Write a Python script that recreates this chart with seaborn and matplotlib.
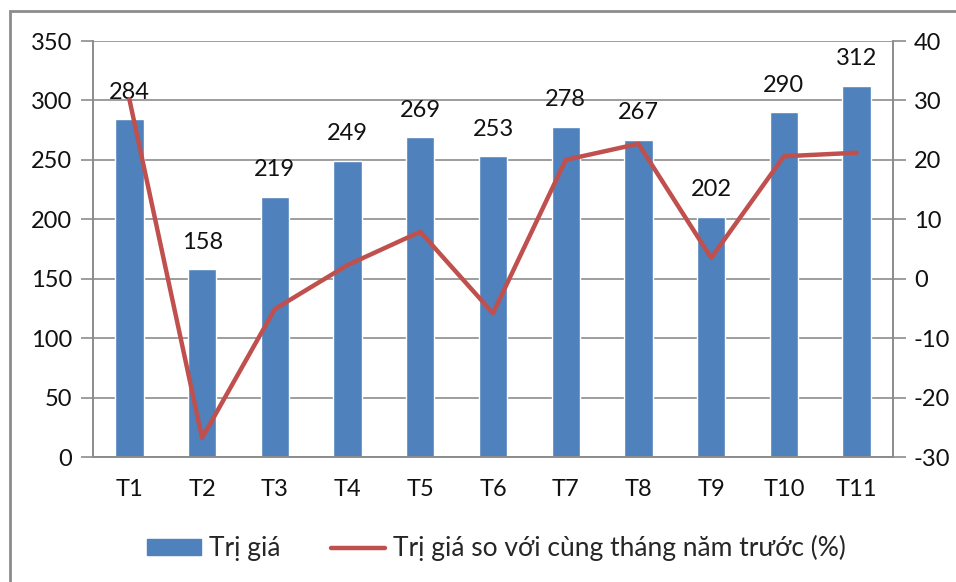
import pandas as pd
import matplotlib.pyplot as plt
import seaborn as sns
from matplotlib.patches import Patch, Rectangle
from matplotlib.lines import Line2D

# Data
months = ["T1", "T2", "T3", "T4", "T5", "T6", "T7", "T8", "T9", "T10", "T11"]
tri_gia = [284, 158, 219, 249, 269, 253, 278, 267, 202, 290, 312]
pct_change = [30.2, -26.8, -5.1, 2.3, 7.9, -5.8, 20.0, 22.7, 3.5, 20.6, 21.2]

df = pd.DataFrame({"Thang": months, "TriGia": tri_gia, "Pct": pct_change})

blue = "#4F81BD"
red = "#C0504D"
grid_col = "#8C8C8C"

sns.set_style("white")
plt.rcParams["font.family"] = ["Lato", "DejaVu Sans"]
plt.rcParams["axes.unicode_minus"] = False

fig = plt.figure(figsize=(9.56, 5.82), dpi=100)
ax = fig.add_axes([93 / 956, 1 - 457 / 582, 800 / 956, 416 / 582])

# Bars
sns.barplot(data=df, x="Thang", y="TriGia", color=blue, width=0.39,
            saturation=1, ax=ax, zorder=2)
ax.set_ylim(0, 350)
ax.set_yticks(range(0, 351, 50))
ax.set_xlim(-0.5, len(months) - 0.5)
ax.yaxis.grid(True, color=grid_col, linewidth=1.2)
ax.set_axisbelow(True)
ax.set_xlabel("")
ax.set_ylabel("")

for i, v in enumerate(tri_gia):
    ax.annotate(str(v), (i, v), xytext=(0, 12), textcoords="offset points",
                ha="center", va="bottom", fontsize=17, color="#111111")

# Line on secondary axis
ax2 = ax.twinx()
sns.lineplot(data=df, x="Thang", y="Pct", color=red, linewidth=3.2,
             sort=False, ax=ax2)
ax2.set_ylim(-30, 40)
ax2.set_yticks(range(-30, 41, 10))
ax2.set_ylabel("")
ax2.set_xlim(-0.5, len(months) - 0.5)

for a in (ax, ax2):
    a.spines["top"].set_visible(False)
    for side in ["left", "right", "bottom"]:
        a.spines[side].set_color(grid_col)
        a.spines[side].set_linewidth(1.2)
    a.tick_params(axis="y", length=9, width=1.2, color=grid_col,
                  labelsize=17, labelcolor="#111111", pad=6)

# category ticks at boundaries
ax.set_xticks([i - 0.5 for i in range(len(months) + 1)], minor=True)
ax.tick_params(axis="x", which="minor", length=9, width=1.2, color=grid_col)
ax.tick_params(axis="x", which="major", length=0, labelsize=17,
               labelcolor="#111111", pad=16)

# Legend
handles = [Patch(facecolor=blue, edgecolor=blue, label="Trị giá"),
           Line2D([0], [0], color=red, linewidth=3.2,
                  label="Trị giá so với cùng tháng năm trước (%)")]
fig.legend(handles=handles, loc="center", bbox_to_anchor=(0.519, 0.058),
           ncol=2, frameon=False, fontsize=19, handlelength=2.05,
           handleheight=0.55, columnspacing=1.9, handletextpad=0.3)

# outer frame
fig.patches.append(Rectangle((10 / 956, -0.05), 1.0, 1 - 11 / 582 + 0.05,
                             transform=fig.transFigure, fill=False,
                             edgecolor="#8C8C8C", linewidth=2))

plt.savefig("out.png", dpi=100)
